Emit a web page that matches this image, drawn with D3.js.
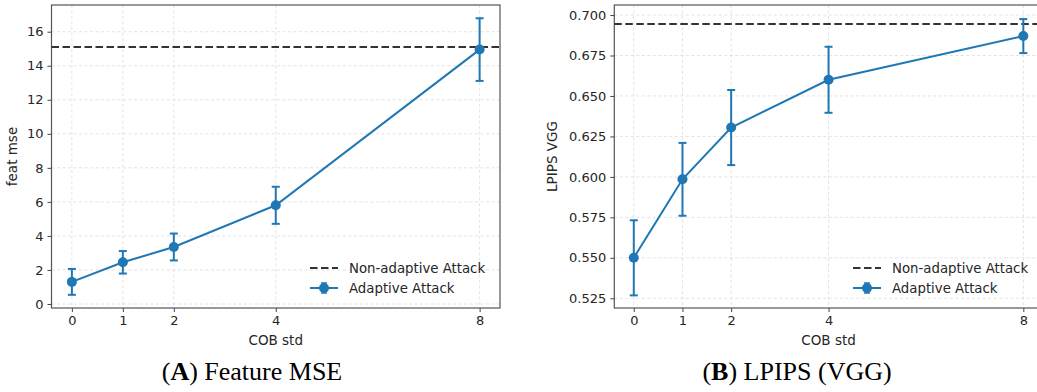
<!DOCTYPE html>
<html>
<head>
<meta charset="utf-8">
<script src="https://cdn.jsdelivr.net/npm/d3@7"></script>
<style>
  body { margin: 0; background: #fff; }
  svg { display: block; }
  text { font-family: "DejaVu Sans", sans-serif; fill: #262626; }
  .caption { font-family: "Liberation Serif", "Times New Roman", serif; fill: #000; }
</style>
</head>
<body>
<div id="chart"></div>
<script>
// data
const cobStd = [0, 1, 2, 4, 8];
const xTicks = [0, 1, 2, 4, 8];

const mseMean = [1.3, 2.45, 3.35, 5.8, 14.95];
const mseErr = [0.76, 0.66, 0.79, 1.09, 1.84];
const mseNonAdaptive = 15.1;
const mseTicks = [0, 2, 4, 6, 8, 10, 12, 14, 16];

const lpipsMean = [0.550, 0.5985, 0.6305, 0.660, 0.687];
const lpipsErr = [0.0232, 0.0225, 0.0232, 0.0204, 0.0105];
const lpipsNonAdaptive = 0.6944;
const lpipsTicks = [0.525, 0.550, 0.575, 0.600, 0.625, 0.650, 0.675, 0.700];

const legendLabels = ["Non-adaptive Attack", "Adaptive Attack"];

const W = 1037, H = 392;
const blue = "#1f77b4";

const svg = d3.select("#chart").append("svg")
    .attr("width", W)
    .attr("height", H);

function drawPanel(opts) {
    const { left, right, top, bottom, yDomain, yTicks, yFormat, mean, err, ref, yLabel, yLabelX, caption, captionLetter, captionX, legendX } = opts;

    const x = d3.scaleLinear().domain([-0.4, 8.4]).range([left, right]);
    const y = d3.scaleLinear().domain(yDomain).range([bottom, top]);

    const g = svg.append("g");

    // grid
    g.append("g").selectAll("line").data(xTicks).join("line")
        .attr("x1", d => x(d)).attr("x2", d => x(d))
        .attr("y1", top).attr("y2", bottom)
        .attr("stroke", "#dcdcdc").attr("stroke-width", 0.8)
        .attr("stroke-dasharray", "3,2.5");
    g.append("g").selectAll("line").data(yTicks).join("line")
        .attr("x1", left).attr("x2", right)
        .attr("y1", d => y(d)).attr("y2", d => y(d))
        .attr("stroke", "#dcdcdc").attr("stroke-width", 0.8)
        .attr("stroke-dasharray", "3,2.5");

    // axes
    const xAxis = g.append("g")
        .attr("transform", `translate(0,${bottom})`)
        .call(d3.axisBottom(x).tickValues(xTicks).tickSize(4).tickPadding(4).tickFormat(d3.format("d")));
    const yAxis = g.append("g")
        .attr("transform", `translate(${left},0)`)
        .call(d3.axisLeft(y).tickValues(yTicks).tickSize(4).tickPadding(4).tickFormat(yFormat));
    [xAxis, yAxis].forEach(a => {
        a.select(".domain").remove();
        a.selectAll(".tick line").attr("stroke", "#444").attr("stroke-width", 1);
        a.selectAll(".tick text")
            .style("font-family", "DejaVu Sans, sans-serif")
            .style("font-size", "13px")
            .attr("fill", "#262626");
    });

    // frame
    g.append("rect")
        .attr("x", left).attr("y", top)
        .attr("width", right - left).attr("height", bottom - top)
        .attr("fill", "none").attr("stroke", "#555").attr("stroke-width", 1.2);

    // non-adaptive reference
    g.append("line")
        .attr("x1", left).attr("x2", right)
        .attr("y1", y(ref)).attr("y2", y(ref))
        .attr("stroke", "#333").attr("stroke-width", 2)
        .attr("stroke-dasharray", "7.5,3.5");

    const pts = cobStd.map((c, i) => ({ c, m: mean[i], e: err[i] }));

    // error bars
    const eb = g.append("g").attr("stroke", blue).attr("stroke-width", 2);
    eb.selectAll(".v").data(pts).join("line")
        .attr("x1", d => x(d.c)).attr("x2", d => x(d.c))
        .attr("y1", d => y(d.m - d.e)).attr("y2", d => y(d.m + d.e));
    eb.selectAll(".t").data(pts).join("line")
        .attr("x1", d => x(d.c) - 4).attr("x2", d => x(d.c) + 4)
        .attr("y1", d => y(d.m + d.e)).attr("y2", d => y(d.m + d.e));
    eb.selectAll(".b").data(pts).join("line")
        .attr("x1", d => x(d.c) - 4).attr("x2", d => x(d.c) + 4)
        .attr("y1", d => y(d.m - d.e)).attr("y2", d => y(d.m - d.e));

    g.append("path").datum(pts)
        .attr("fill", "none").attr("stroke", blue).attr("stroke-width", 2)
        .attr("d", d3.line().x(d => x(d.c)).y(d => y(d.m)));

    g.append("g").selectAll("circle").data(pts).join("circle")
        .attr("cx", d => x(d.c)).attr("cy", d => y(d.m))
        .attr("r", 5).attr("fill", blue);

    // labels
    g.append("text")
        .attr("x", (left + right) / 2).attr("y", 345)
        .attr("text-anchor", "middle")
        .style("font-size", "13.5px")
        .text("COB std");
    g.append("text")
        .attr("transform", `translate(${yLabelX},${(top + bottom) / 2}) rotate(-90)`)
        .attr("text-anchor", "middle")
        .style("font-size", "13.5px")
        .text(yLabel);

    // legend
    const lg = g.append("g");
    lg.append("line")
        .attr("x1", legendX).attr("x2", legendX + 28)
        .attr("y1", 268).attr("y2", 268)
        .attr("stroke", "#333").attr("stroke-width", 2)
        .attr("stroke-dasharray", "7.5,3.5");
    lg.append("line")
        .attr("x1", legendX).attr("x2", legendX + 28)
        .attr("y1", 288).attr("y2", 288)
        .attr("stroke", blue).attr("stroke-width", 2);
    lg.append("line")
        .attr("x1", legendX + 14).attr("x2", legendX + 14)
        .attr("y1", 283).attr("y2", 293)
        .attr("stroke", blue).attr("stroke-width", 2);
    [283, 293].forEach(yy => lg.append("line")
        .attr("x1", legendX + 11).attr("x2", legendX + 17)
        .attr("y1", yy).attr("y2", yy)
        .attr("stroke", blue).attr("stroke-width", 1.5));
    lg.append("circle").attr("cx", legendX + 14).attr("cy", 288).attr("r", 5).attr("fill", blue);
    legendLabels.forEach((t, i) => lg.append("text")
        .attr("x", legendX + 39).attr("y", 268 + i * 20)
        .attr("dy", "0.35em")
        .style("font-size", "13.3px")
        .text(t));

    // caption
    const cap = g.append("text")
        .attr("class", "caption")
        .attr("x", captionX).attr("y", 380)
        .attr("text-anchor", "middle")
        .style("font-size", "26px");
    cap.append("tspan").text("(");
    cap.append("tspan").style("font-weight", "bold").text(captionLetter);
    cap.append("tspan").text(") " + caption);
}

drawPanel({
    left: 51.5, right: 500, top: 5, bottom: 308,
    yDomain: [-0.235, 17.57], yTicks: mseTicks, yFormat: d3.format("d"),
    mean: mseMean, err: mseErr, ref: mseNonAdaptive,
    yLabel: "feat mse", yLabelX: 17,
    captionLetter: "A", caption: "Feature MSE", captionX: 252,
    legendX: 310
});

drawPanel({
    left: 614.3, right: 1042.8, top: 5, bottom: 308,
    yDomain: [0.519, 0.7062], yTicks: lpipsTicks, yFormat: d3.format(".3f"),
    mean: lpipsMean, err: lpipsErr, ref: lpipsNonAdaptive,
    yLabel: "LPIPS VGG", yLabelX: 557,
    captionLetter: "B", caption: "LPIPS (VGG)", captionX: 797,
    legendX: 853
});
</script>
</body>
</html>
